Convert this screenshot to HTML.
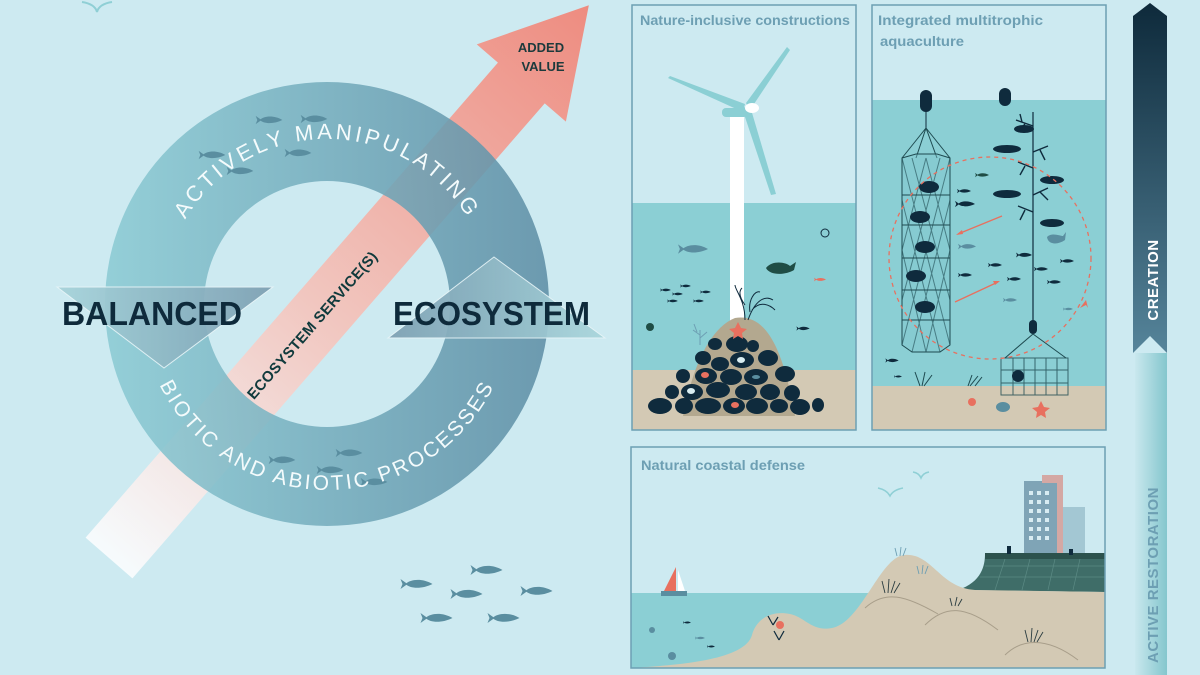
<!DOCTYPE html>
<html><head><meta charset="utf-8"><style>
html,body{margin:0;padding:0;background:#cdeaf1;}
svg{display:block;}
text{font-family:"Liberation Sans",sans-serif;}
</style></head><body>
<svg width="1200" height="675" viewBox="0 0 1200 675" xmlns="http://www.w3.org/2000/svg">
<defs>
<symbol id="f" viewBox="0 0 32 12"><path d="M0,1 L7,6 L0,11 L2,6Z M5,6 C10,1 22,0 32,6 C22,11 10,11 5,6Z"/></symbol>
<linearGradient id="ag" x1="0" y1="0" x2="1" y2="0"><stop offset="0" stop-color="#f6fbfd"/><stop offset="0.45" stop-color="#f1c6bf"/><stop offset="1" stop-color="#ee8c80"/></linearGradient>
<linearGradient id="rg" x1="0" y1="0" x2="1" y2="0"><stop offset="0" stop-color="#8ccbd4"/><stop offset="1" stop-color="#5f8fa6"/></linearGradient>
<linearGradient id="tg1" x1="0" y1="0" x2="1" y2="0"><stop offset="0" stop-color="#a6d3da"/><stop offset="1" stop-color="#7c9fb2"/></linearGradient>
<linearGradient id="tg2" x1="0" y1="0" x2="1" y2="0"><stop offset="0" stop-color="#7c9fb2"/><stop offset="1" stop-color="#a9d6dc"/></linearGradient>
<linearGradient id="cg" x1="0" y1="0" x2="0" y2="1"><stop offset="0" stop-color="#0e2a3b"/><stop offset="1" stop-color="#55849a"/></linearGradient>
<linearGradient id="rsg" x1="0" y1="0" x2="1" y2="0"><stop offset="0" stop-color="#c9e8ee"/><stop offset="1" stop-color="#84c6cd"/></linearGradient>
<path id="topArc" d="M162,304 A165,165 0 0 1 492,304"/>
<path id="botArc" d="M141,304 A186,186 0 0 0 513,304"/>
</defs>
<rect width="1200" height="675" fill="#cdeaf1"/>
<path d="M82,2 Q95,4 97,12 Q99,4 112,2" fill="none" stroke="#8fcfd5" stroke-width="2"/>

<g transform="translate(109,558) rotate(-49.04)">
<polygon points="0,-31 629,-31 629,-59 732,0 629,59 629,31 0,31" fill="url(#ag)"/>
</g>
<path fill-rule="evenodd" opacity="0.88" fill="url(#rg)" d="M105,304 A222,222 0 1 0 549,304 A222,222 0 1 0 105,304Z M204,304 A123,123 0 1 1 450,304 A123,123 0 1 1 204,304Z"/>
<g transform="translate(109,558) rotate(-49.04)">
<text x="309" y="6" text-anchor="middle" font-size="15" font-weight="bold" fill="#103a3c" letter-spacing="0.3">ECOSYSTEM SERVICE(S)</text>
</g>
<text x="541" y="52" text-anchor="middle" font-size="13" font-weight="bold" fill="#1c3a3c">ADDED</text>
<text x="543" y="71" text-anchor="middle" font-size="13" font-weight="bold" fill="#1c3a3c">VALUE</text>

<g fill="#5a8ea0">
<use href="#f" x="255" y="115" width="28" height="10"/><use href="#f" x="300" y="114" width="28" height="10"/>
<use href="#f" x="198" y="150" width="28" height="10"/><use href="#f" x="284" y="148" width="28" height="10"/>
<use href="#f" x="226" y="166" width="28" height="10"/>
<use href="#f" x="268" y="455" width="28" height="10"/><use href="#f" x="335" y="448" width="28" height="10"/>
<use href="#f" x="316" y="465" width="28" height="10"/><use href="#f" x="360" y="477" width="28" height="10"/>
</g>

<text font-size="22" fill="#f4fbfc" letter-spacing="3.2"><textPath href="#topArc" startOffset="50%" text-anchor="middle">ACTIVELY MANIPULATING</textPath></text>
<text font-size="21" fill="#f4fbfc" letter-spacing="2.6"><textPath href="#botArc" startOffset="50%" text-anchor="middle">BIOTIC AND ABIOTIC PROCESSES</textPath></text>

<polygon points="57,287 273,287 164,368" fill="url(#tg1)" opacity="0.92" stroke="#e6f4f7" stroke-width="1"/>
<polygon points="494,257 605,338 388,338" fill="url(#tg2)" opacity="0.92" stroke="#e6f4f7" stroke-width="1"/>
<text x="62" y="325" font-size="33" font-weight="bold" fill="#0e2a3b" textLength="180" lengthAdjust="spacingAndGlyphs">BALANCED</text>
<text x="393" y="325" font-size="33" font-weight="bold" fill="#0e2a3b" textLength="197" lengthAdjust="spacingAndGlyphs">ECOSYSTEM</text>

<g fill="#5a8ea0">
<use href="#f" x="400" y="578" width="33" height="12"/><use href="#f" x="470" y="564" width="33" height="12"/>
<use href="#f" x="450" y="588" width="33" height="12"/><use href="#f" x="520" y="585" width="33" height="12"/>
<use href="#f" x="420" y="612" width="33" height="12"/><use href="#f" x="487" y="612" width="33" height="12"/>
</g>

<g>
<rect x="632" y="5" width="224" height="425" fill="#cdeaf1"/>
<rect x="632" y="203" width="224" height="227" fill="#8bcfd4"/>
<rect x="632" y="370" width="224" height="60" fill="#d3c9b4"/>
<rect x="730" y="110" width="14" height="230" fill="#fff"/>
<g fill="#8bcfd4">
<path d="M745,104 L670,76 L668,78 L743,112Z"/>
<path d="M746,103 L787,47 L790,50 L750,110Z"/>
<path d="M742,108 L771,195 L776,194 L750,106Z"/>
<rect x="722" y="108" width="26" height="9" rx="4"/>
</g>
<ellipse cx="752" cy="108" rx="7" ry="5" fill="#fff"/>
<path d="M683,416 C690,380 705,330 735,318 C770,312 785,360 795,416Z" fill="#b3a88f"/>
<g fill="#0f2b3d">
<ellipse cx="715" cy="344" rx="7" ry="6"/><ellipse cx="737" cy="344" rx="11" ry="8"/><ellipse cx="753" cy="346" rx="6" ry="6"/>
<ellipse cx="703" cy="358" rx="8" ry="7"/><ellipse cx="720" cy="364" rx="9" ry="7"/><ellipse cx="742" cy="360" rx="12" ry="8"/><ellipse cx="768" cy="358" rx="10" ry="8"/>
<ellipse cx="683" cy="376" rx="7" ry="7"/><ellipse cx="706" cy="376" rx="11" ry="8"/><ellipse cx="731" cy="377" rx="11" ry="8"/><ellipse cx="756" cy="377" rx="12" ry="8"/><ellipse cx="785" cy="374" rx="10" ry="8"/>
<ellipse cx="672" cy="392" rx="7" ry="7"/><ellipse cx="692" cy="392" rx="11" ry="8"/><ellipse cx="718" cy="390" rx="12" ry="8"/><ellipse cx="746" cy="392" rx="11" ry="8"/><ellipse cx="770" cy="392" rx="10" ry="8"/><ellipse cx="792" cy="393" rx="8" ry="8"/>
<ellipse cx="660" cy="406" rx="12" ry="8"/><ellipse cx="684" cy="406" rx="9" ry="8"/><ellipse cx="708" cy="406" rx="13" ry="8"/><ellipse cx="734" cy="406" rx="11" ry="8"/><ellipse cx="757" cy="406" rx="11" ry="8"/><ellipse cx="779" cy="406" rx="9" ry="7"/><ellipse cx="800" cy="407" rx="10" ry="8"/><ellipse cx="818" cy="405" rx="6" ry="7"/>
</g>
<g fill="#e8705f"><ellipse cx="705" cy="375" rx="4" ry="3"/><ellipse cx="735" cy="405" rx="4" ry="3"/>
<path d="M738,322 l3,6 6,1 -5,4 1,6 -5,-3 -5,3 1,-6 -5,-4 6,-1Z"/></g>
<g fill="#d9eef2"><ellipse cx="741" cy="360" rx="4" ry="3"/><ellipse cx="691" cy="391" rx="4" ry="3"/></g>
<ellipse cx="756" cy="377" rx="4" ry="2" fill="#5a8ea0"/>
<g stroke="#0f2b3d" stroke-width="1" fill="none"><path d="M745,320 C745,300 735,290 735,285 M748,320 C755,300 765,295 773,300 M745,305 C740,298 738,292 742,288 M752,310 C760,300 770,305 775,310 M750,312 C748,300 755,290 760,292"/></g>
<g stroke="#6d9fb3" stroke-width="1" fill="none"><path d="M700,345 L700,330 M700,335 L693,330 M700,338 L707,332 M697,332 L694,324"/></g>
<g fill="#5a8ea0"><use href="#f" x="678" y="243" width="30" height="12"/></g>
<path d="M766,268 C772,260 786,262 790,266 L796,262 L794,270 C786,275 770,276 766,268Z" fill="#1f4d45"/>
<g fill="#0f2b3d"><use href="#f" x="660" y="288" width="11" height="4"/><use href="#f" x="680" y="284" width="11" height="4"/><use href="#f" x="672" y="292" width="11" height="4"/><use href="#f" x="700" y="290" width="11" height="4"/><use href="#f" x="667" y="299" width="11" height="4"/><use href="#f" x="693" y="299" width="11" height="4"/><use href="#f" x="796" y="326" width="14" height="5"/></g>
<use href="#f" x="814" y="277" width="12" height="5" fill="#e8705f"/>
<circle cx="825" cy="233" r="4" fill="none" stroke="#0f2b3d" stroke-width="1"/>
<circle cx="650" cy="327" r="4" fill="#1f4d45"/>
<rect x="632" y="5" width="224" height="425" fill="none" stroke="#6d9fb3" stroke-width="1.5"/>
<text x="640" y="25" font-size="14" font-weight="bold" fill="#6d9fb3" textLength="210" lengthAdjust="spacingAndGlyphs">Nature-inclusive constructions</text>
</g>

<g>
<rect x="872" y="5" width="234" height="425" fill="#cdeaf1"/>
<rect x="872" y="100" width="234" height="330" fill="#8bcfd4"/>
<rect x="872" y="386" width="234" height="44" fill="#d3c9b4"/>
<rect x="920" y="90" width="12" height="22" rx="6" fill="#0f2b3d"/>
<rect x="999" y="88" width="12" height="18" rx="6" fill="#0f2b3d"/>
<line x1="926" y1="110" x2="926" y2="128" stroke="#0f2b3d"/>
<line x1="1033" y1="112" x2="1033" y2="322" stroke="#0f2b3d" stroke-width="1.2"/>
<rect x="1029" y="320" width="8" height="14" rx="4" fill="#0f2b3d"/>
<g stroke="#1e4a50" stroke-width="1" fill="none">
<path d="M926,128 L902,158 M926,128 L916,158 M926,128 L937,158 M926,128 L950,158"/>
<path d="M902,158 L916,154 L937,154 L950,158 L950,345 L940,352 L912,352 L902,345Z" fill="#7fc5cc" fill-opacity="0.4"/>
<path d="M902,195 L950,195 M902,225 L950,225 M902,258 L950,258 M902,290 L950,290 M902,320 L950,320"/>
<path d="M902,158 L950,345 M912,158 L950,300 M926,158 L950,250 M902,200 L940,352 M902,250 L926,352 M950,158 L902,345 M940,158 L902,300 M926,158 L902,250 M950,200 L912,352 M950,250 L926,352" stroke-opacity="0.6"/>
<path d="M1033,334 L1005,358 M1033,334 L1066,358"/>
<path d="M1001,358 L1068,358 L1068,395 L1001,395Z M1001,370 L1068,370 M1001,383 L1068,383 M1013,358 L1013,395 M1024,358 L1024,395 M1035,358 L1035,395 M1046,358 L1046,395 M1057,358 L1057,395" stroke-opacity="0.8"/>
</g>
<g fill="#0f2b3d">
<ellipse cx="929" cy="187" rx="10" ry="6"/><ellipse cx="920" cy="217" rx="10" ry="6"/><ellipse cx="925" cy="247" rx="10" ry="6"/>
<ellipse cx="916" cy="276" rx="10" ry="6"/><ellipse cx="925" cy="307" rx="10" ry="6"/><ellipse cx="1018" cy="376" rx="6" ry="6"/>
<ellipse cx="1024" cy="129" rx="10" ry="4"/><ellipse cx="1007" cy="149" rx="14" ry="4"/><ellipse cx="1052" cy="180" rx="12" ry="4"/>
<ellipse cx="1007" cy="194" rx="14" ry="4"/><ellipse cx="1052" cy="223" rx="12" ry="4"/>
</g>
<g stroke="#0f2b3d" stroke-width="1.4" fill="none">
<path d="M1033,126 L1016,120 M1022,122 L1020,114 M1025,124 L1018,132 M1033,152 L1048,146 M1040,150 L1045,160 M1033,168 L1018,162 M1025,166 L1020,175 M1033,195 L1048,188 M1040,192 L1048,200 M1033,212 L1018,206 M1025,210 L1020,220"/>
</g>
<g fill="#0f2b3d">
<use href="#f" x="957" y="188" width="14" height="6"/><use href="#f" x="955" y="200" width="20" height="8"/><use href="#f" x="1016" y="252" width="16" height="6"/>
<use href="#f" x="988" y="262" width="14" height="6"/><use href="#f" x="1034" y="266" width="14" height="6"/><use href="#f" x="1060" y="258" width="14" height="6"/>
<use href="#f" x="1007" y="276" width="14" height="6"/><use href="#f" x="1047" y="279" width="14" height="6"/><use href="#f" x="958" y="272" width="14" height="6"/>
<use href="#f" x="885" y="358" width="14" height="5"/><use href="#f" x="894" y="375" width="8" height="3"/>
</g>
<g fill="#5a8ea0"><use href="#f" x="958" y="243" width="18" height="7"/><use href="#f" x="1003" y="297" width="14" height="6"/><use href="#f" x="1063" y="307" width="10" height="4"/>
<path d="M1047,237 C1052,232 1060,236 1063,236 L1066,232 L1065,240 C1058,245 1048,245 1047,237Z"/></g>
<use href="#f" x="975" y="172" width="14" height="6" fill="#1f4d45"/>
<circle cx="990" cy="258" r="101" fill="none" stroke="#e8705f" stroke-width="1.3" stroke-dasharray="4 4"/>
<g stroke="#e8705f" stroke-width="1.3"><line x1="1002" y1="216" x2="958" y2="234"/><line x1="955" y1="302" x2="998" y2="282"/></g>
<g fill="#e8705f"><path d="M956,235 l6,-5 1,4z"/><path d="M1000,281 l-7,0 2,4z"/><path d="M1086,300 l-6,8 6,-3 2,3z"/><path d="M1041,401 l3,6 6,1 -5,4 1,6 -5,-3 -5,3 1,-6 -5,-4 6,-1Z"/><circle cx="972" cy="402" r="4"/></g>
<ellipse cx="1003" cy="407" rx="7" ry="5" fill="#5a8ea0"/>
<g stroke="#1e4a50" fill="none" stroke-width="1"><path d="M920,386 L915,372 M922,386 L925,372 M924,386 L932,375 M968,386 L972,375 M970,386 L978,376 M975,386 L982,377"/></g>
<rect x="872" y="5" width="234" height="425" fill="none" stroke="#6d9fb3" stroke-width="1.5"/>
<text x="878" y="25" font-size="14" font-weight="bold" fill="#6d9fb3" textLength="165" lengthAdjust="spacingAndGlyphs">Integrated multitrophic</text>
<text x="880" y="46" font-size="14" font-weight="bold" fill="#6d9fb3" textLength="84" lengthAdjust="spacingAndGlyphs">aquaculture</text>
</g>

<g>
<rect x="631" y="447" width="474" height="221" fill="#cdeaf1"/>
<rect x="631" y="593" width="260" height="75" fill="#8bcfd4"/>
<rect x="1024" y="481" width="33" height="75" fill="#7fa4b6"/>
<rect x="1057" y="475" width="6" height="81" fill="#d4a8a4"/>
<rect x="1042" y="475" width="21" height="8" fill="#d4a8a4"/>
<rect x="1063" y="507" width="22" height="49" fill="#a3c7d3"/>
<g fill="#d8ecf2"><rect x="1029" y="491" width="4" height="4"/><rect x="1037" y="491" width="4" height="4"/><rect x="1045" y="491" width="4" height="4"/>
<rect x="1029" y="500" width="4" height="4"/><rect x="1037" y="500" width="4" height="4"/><rect x="1045" y="500" width="4" height="4"/>
<rect x="1029" y="509" width="4" height="4"/><rect x="1037" y="509" width="4" height="4"/><rect x="1045" y="509" width="4" height="4"/>
<rect x="1029" y="518" width="4" height="4"/><rect x="1037" y="518" width="4" height="4"/><rect x="1045" y="518" width="4" height="4"/>
<rect x="1029" y="527" width="4" height="4"/><rect x="1037" y="527" width="4" height="4"/><rect x="1045" y="527" width="4" height="4"/>
<rect x="1029" y="536" width="4" height="4"/><rect x="1037" y="536" width="4" height="4"/><rect x="1045" y="536" width="4" height="4"/></g>
<path d="M958,590 C982,582 985,565 985,554 L1105,554 L1105,592 Z" fill="#3f6d68"/>
<rect x="985" y="553" width="120" height="6" fill="#2c524d"/>
<g stroke="#5b8a84" stroke-width="0.7" fill="none"><path d="M985,566 L1105,566 M980,577 L1105,577 M1005,559 L995,590 M1030,559 L1022,590 M1055,559 L1048,590 M1080,559 L1073,590"/></g>
<g fill="#0f2b3d"><rect x="1007" y="546" width="4" height="8"/><rect x="1069" y="549" width="4" height="6"/></g>
<path d="M631,668 C680,665 745,660 752,635 C756,620 770,610 790,614 C805,617 812,632 832,628 C862,622 880,556 905,555 C932,553 940,588 975,590 L1105,592 L1105,668 Z" fill="#d3c9b4"/>
<g stroke="#a89e8a" stroke-width="1" fill="none"><path d="M865,608 C885,590 905,595 938,614 M925,625 C945,605 965,605 998,630 M1005,655 C1020,640 1045,635 1078,660"/></g>
<g stroke="#2a3c40" stroke-width="0.9" fill="none"><path d="M885,593 l-3,-12 M888,593 l1,-14 M891,593 l4,-12 M894,593 l6,-10 M952,606 l-2,-8 M955,606 l2,-9 M958,606 l4,-7 M1028,642 l-3,-12 M1031,642 l1,-14 M1034,642 l4,-12 M1037,642 l6,-10"/></g>
<g stroke="#6d9fb3" stroke-width="0.9" fill="none"><path d="M897,556 l-2,-8 M900,556 l1,-9 M903,556 l3,-8 M919,574 l-2,-8 M922,574 l1,-9 M925,574 l3,-8"/></g>
<g stroke="#0f2b3d" stroke-width="1.2" fill="none"><path d="M773,625 l-5,-9 M773,625 l5,-8 M779,640 l-5,-9 M779,640 l5,-9"/></g>
<circle cx="780" cy="625" r="4" fill="#e8705f"/>
<path d="M676,567 L676,591 L664,591Z" fill="#e8705f"/><path d="M678,570 L678,591 L685,591Z" fill="#fff"/>
<rect x="661" y="591" width="26" height="5" fill="#5a8ea0"/>
<g fill="#0f2b3d"><use href="#f" x="683" y="621" width="8" height="3"/><use href="#f" x="707" y="645" width="8" height="3"/></g>
<g fill="#5a8ea0"><use href="#f" x="695" y="636" width="10" height="4"/><circle cx="652" cy="630" r="3"/><circle cx="672" cy="656" r="4"/></g>
<path d="M878,488 Q887,490 890,496 Q893,490 903,488 M913,472 Q919,473 921,478 Q923,473 929,472" fill="none" stroke="#8fcfd5" stroke-width="1.5"/>
<rect x="631" y="447" width="474" height="221" fill="none" stroke="#6d9fb3" stroke-width="1.5"/>
<text x="641" y="470" font-size="14" font-weight="bold" fill="#6d9fb3" textLength="164" lengthAdjust="spacingAndGlyphs">Natural coastal defense</text>
</g>

<rect x="1135" y="353" width="32" height="322" fill="url(#rsg)"/>
<polygon points="1150,3 1167,16 1167,353 1150,336 1133,353 1133,16" fill="url(#cg)"/>
<text transform="translate(1158,280) rotate(-90)" text-anchor="middle" font-size="15" font-weight="bold" fill="#fff" letter-spacing="0.5">CREATION</text>
<text transform="translate(1158,575) rotate(-90)" text-anchor="middle" font-size="15" font-weight="bold" fill="#6d9fb3" letter-spacing="0.5">ACTIVE RESTORATION</text>
</svg>
</body></html>
